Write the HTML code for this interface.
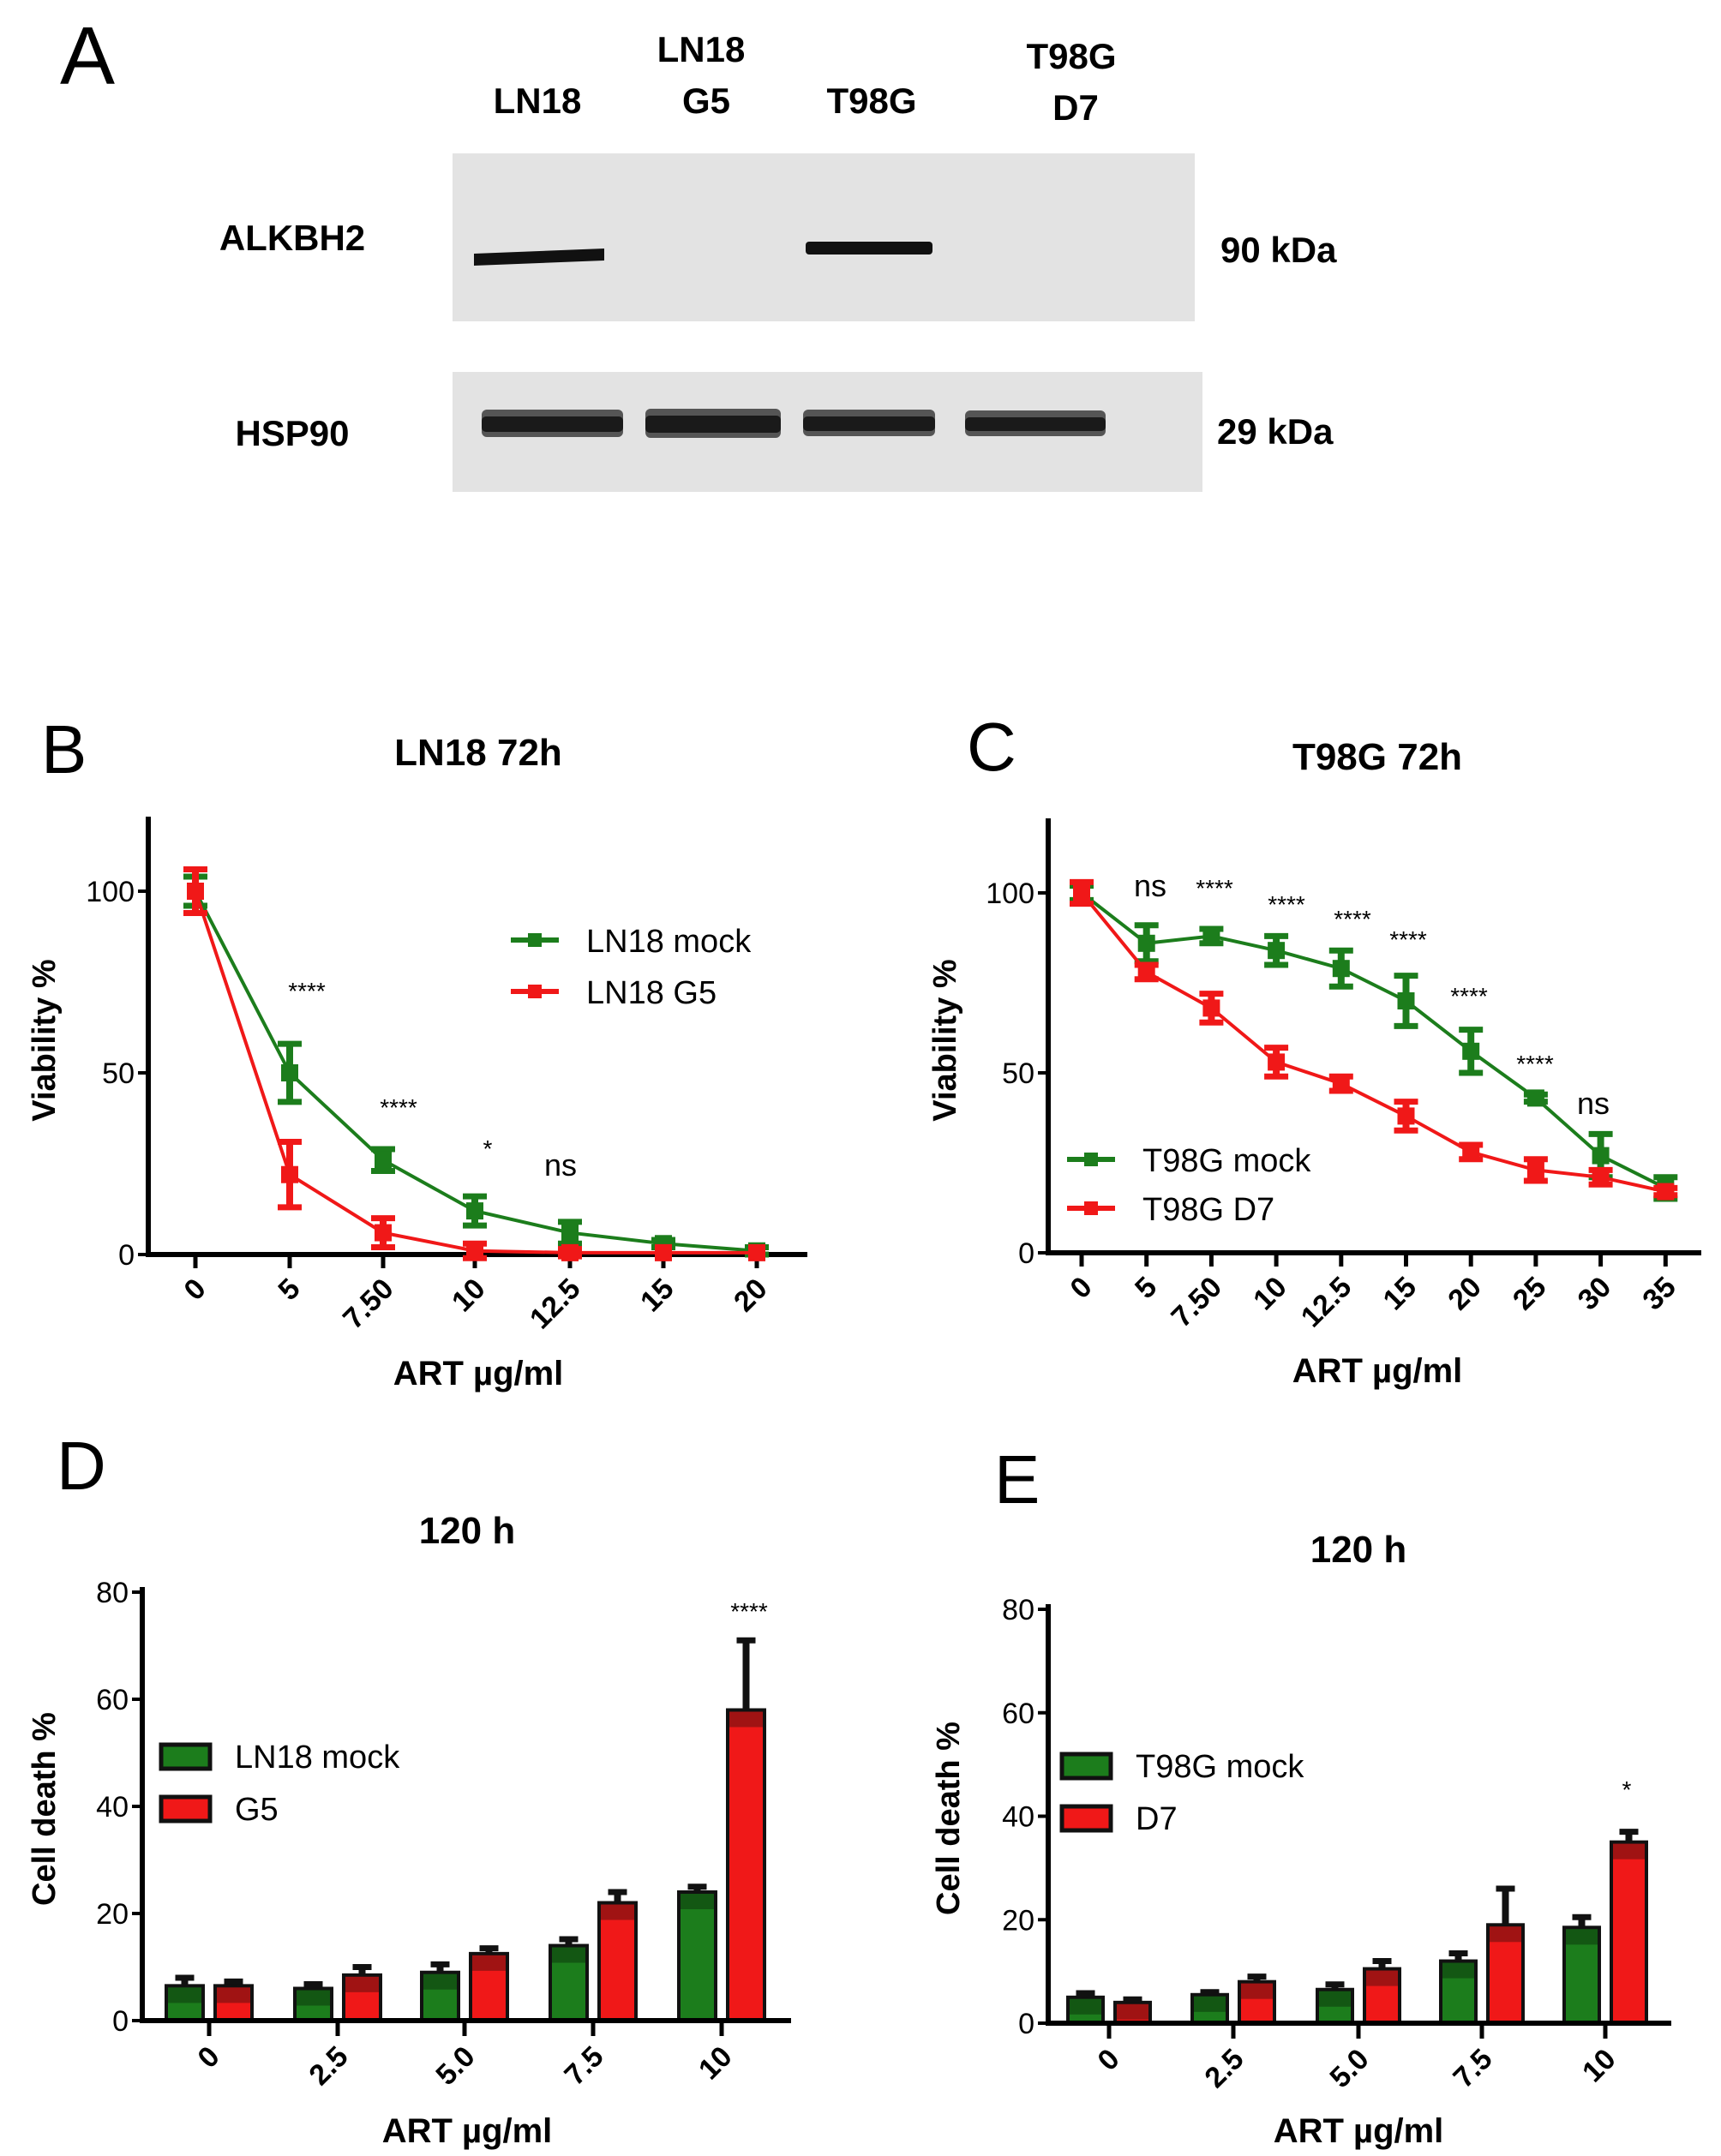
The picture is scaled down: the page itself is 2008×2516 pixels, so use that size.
<!DOCTYPE html>
<html><head><meta charset="utf-8"><style>
html,body{margin:0;padding:0;background:#fff}
svg{display:block}
text{font-family:"Liberation Sans",Arial,sans-serif}
</style></head><body>
<svg id="s" width="2008" height="2516" viewBox="0 0 2008 2516" xmlns="http://www.w3.org/2000/svg">
<rect width="2008" height="2516" fill="#fff"/>
<text x="70" y="98" font-size="96" fill="#000">A</text>
<g font-size="42" font-weight="bold" text-anchor="middle">
<text x="627" y="132">LN18</text>
<text x="818" y="72">LN18</text><text x="824" y="132">G5</text>
<text x="1017" y="132">T98G</text>
<text x="1250" y="80">T98G</text><text x="1255" y="140">D7</text>
<text x="341" y="292">ALKBH2</text>
<text x="341" y="520">HSP90</text>
</g>
<g font-size="42" font-weight="bold"><text x="1424" y="306">90 kDa</text><text x="1420" y="518">29 kDa</text></g>
<rect x="528" y="179" width="866" height="196" fill="#e3e3e3"/>
<rect x="528" y="434" width="875" height="140" fill="#e3e3e3"/>
<path d="M553 296 L705 290 L705 304 L553 310Z" fill="#111"/>
<rect x="940" y="282" width="148" height="15" rx="4" fill="#111"/>
<g fill="#555"><rect x="562" y="478" width="165" height="32" rx="6"/><rect x="753" y="477" width="158" height="34" rx="6"/><rect x="937" y="478" width="154" height="31" rx="6"/><rect x="1126" y="479" width="164" height="30" rx="6"/></g>
<g fill="#1a1a1a">
<rect x="562" y="486" width="165" height="18" rx="5"/>
<rect x="753" y="485" width="158" height="20" rx="5"/>
<rect x="937" y="486" width="154" height="17" rx="5"/>
<rect x="1126" y="487" width="164" height="16" rx="5"/>
</g>
<g id="dyn"></g>
</svg>
<script>
const G="#1c7d1c",R="#f01818";
let o="";
function T(x,y,s,sz,extra){o+=`<text x="${x}" y="${y}" font-size="${sz}" ${extra||""}>${s}</text>`;}
function L(x1,y1,x2,y2,c,w){o+=`<line x1="${x1}" y1="${y1}" x2="${x2}" y2="${y2}" stroke="${c}" stroke-width="${w}"/>`;}
function R_(x,y,w,h,f,extra){o+=`<rect x="${x}" y="${y}" width="${w}" height="${h}" fill="${f}" ${extra||""}/>`;}
function lineChart(o2){
  const {ax,top,zero,y100,end,xs,labels,data,letter,title,legend,yl,xl,ann}=o2;
  const Y=v=>zero-(zero-y100)*v/100;
  L(ax,top,ax,zero+3,"#000",6);L(ax-3,zero,end,zero,"#000",6);
  [0,50,100].forEach(v=>{L(ax-12,Y(v),ax,Y(v),"#000",4);T(ax-16,Y(v)+12,v,34,'text-anchor="end"');});
  xs.forEach((x,i)=>{L(x,zero,x,zero+16,"#000",5);T(x+14,zero+42,labels[i],34,`font-weight="bold" text-anchor="end" transform="rotate(-45 ${x+14} ${zero+42})"`);});
  data.forEach(([c,vals,errs])=>{
    o+=`<polyline fill="none" stroke="${c}" stroke-width="4" points="${vals.map((v,i)=>xs[i]+","+Y(v)).join(" ")}"/>`;
    vals.forEach((v,i)=>{const x=xs[i],e=errs[i];
      if(e>0){L(x,Y(v+e),x,Y(v-e),c,8);L(x-14,Y(v+e),x+14,Y(v+e),c,7);L(x-14,Y(v-e),x+14,Y(v-e),c,7);}
      R_(x-10,Y(v)-10,20,20,c);});
  });
  ann.forEach(a=>T(a[0],a[1],a[2],a[2]=="ns"?36:28,'text-anchor="middle"'));
  T(letter[0],letter[1],letter[2],80);
  T(title[0],title[1],title[2],44,'font-weight="bold" text-anchor="middle"');
  legend.forEach(([x,y,c,s])=>{L(x,y,x+56,y,c,6);R_(x+20,y-8,16,16,c);T(x+88,y+14,s,38);});
  T(yl[0],yl[1],"Viability %",38,`font-weight="bold" text-anchor="middle" transform="rotate(-90 ${yl[0]} ${yl[1]})"`);
  T(xl[0],xl[1],"ART µg/ml",40,'font-weight="bold" text-anchor="middle"');
}
lineChart({ax:173,top:953,zero:1464,y100:1040,end:942,
 xs:[228,338,447,554,665,774,883],labels:["0","5","7.50","10","12.5","15","20"],
 data:[[G,[100,50,26,12,6,3,1],[4,8,3,4,3,1,1]],[R,[100,22,6,1,0.5,0.5,0.5],[6,9,4,2,1,0,0]]],
 letter:[48,902,"B"],title:[558,893,"LN18 72h"],
 legend:[[596,1097,G,"LN18 mock"],[596,1157,R,"LN18 G5"]],
 yl:[64,1214],xl:[558,1616],
 ann:[[358,1166,"****"],[465,1302,"****"],[569,1350,"*"],[654,1372,"ns"]]});
const cx=[];for(let i=0;i<10;i++)cx.push(1262+i*75.7);
lineChart({ax:1223,top:955,zero:1462,y100:1042,end:1985,
 xs:cx,labels:["0","5","7.50","10","12.5","15","20","25","30","35"],
 data:[[G,[100,86,88,84,79,70,56,43,27,18],[2,5,2,4,5,7,6,1,6,3]],[R,[100,78,68,53,47,38,28,23,21,17],[3,2,4,4,2,4,2,3,2,1]]],
 letter:[1128,899,"C"],title:[1607,898,"T98G 72h"],
 legend:[[1245,1353,G,"T98G mock"],[1245,1410,R,"T98G D7"]],
 yl:[1115,1214],xl:[1607,1613],
 ann:[[1342,1046,"ns"],[1417,1046,"****"],[1501,1065,"****"],[1578,1082,"****"],[1643,1106,"****"],[1714,1172,"****"],[1791,1251,"****"],[1859,1300,"ns"]]});
function barChart(p){
  const {ax,top,zero,y80,end,xs,gv,rv,ge,re,bw,letter,title,legend,yl,xl,ann}=p;
  const Y=v=>zero-(zero-y80)*v/80;
  xs.forEach((x,i)=>{
    [[x-bw-7,gv[i],ge[i],G,"#0d3d0d"],[x+7,rv[i],re[i],R,"#6a1010"]].forEach(([bx,v,e,c,dk])=>{
      R_(bx,Y(v),bw,zero-Y(v),c,'stroke="#111" stroke-width="4"');
      const h=Math.min(zero-Y(v)-4,18);
      R_(bx+2,Y(v)+2,bw-4,h,dk,'opacity="0.6"');
      L(bx+bw/2,Y(v+e),bx+bw/2,Y(v),"#111",8);L(bx+bw/2-11,Y(v+e),bx+bw/2+11,Y(v+e),"#111",7);
    });
  });
  L(ax,top,ax,zero+3,"#000",6);L(ax-3,zero,end,zero,"#000",6);
  [0,20,40,60,80].forEach(v=>{L(ax-12,Y(v),ax,Y(v),"#000",4);T(ax-16,Y(v)+12,v,34,'text-anchor="end"');});
  const lab=["0","2.5","5.0","7.5","10"];
  xs.forEach((x,i)=>{L(x,zero,x,zero+18,"#000",5);T(x+14,zero+44,lab[i],34,`font-weight="bold" text-anchor="end" transform="rotate(-45 ${x+14} ${zero+44})"`);});
  ann.forEach(a=>T(a[0],a[1],a[2],28,'text-anchor="middle"'));
  T(letter[0],letter[1],letter[2],80);
  T(title[0],title[1],"120 h",44,'font-weight="bold" text-anchor="middle"');
  legend.forEach(([x,y,c,s])=>{R_(x,y,57,28,c,'stroke="#111" stroke-width="5"');T(x+86,y+27,s,38);});
  T(yl[0],yl[1],"Cell death %",38,`font-weight="bold" text-anchor="middle" transform="rotate(-90 ${yl[0]} ${yl[1]})"`);
  T(xl[0],xl[1],"ART µg/ml",40,'font-weight="bold" text-anchor="middle"');
}
barChart({ax:166,top:1852,zero:2358,y80:1858,end:923,xs:[244,394,542,692,842],
 gv:[6.5,6,9,14,24],rv:[6.5,8.5,12.5,22,58],ge:[1.5,0.8,1.5,1.2,1],re:[0.8,1.5,1,2,13],bw:43,
 letter:[66,1738,"D"],title:[545,1801],legend:[[188,2036,G,"LN18 mock"],[188,2097,R,"G5"]],
 yl:[64,2111],xl:[545,2500],ann:[[874,1890,"****"]]});
barChart({ax:1223,top:1872,zero:2361,y80:1878,end:1950,xs:[1294,1439,1585,1729,1873],
 gv:[5,5.5,6.5,12,18.5],rv:[4,8,10.5,19,35],ge:[0.8,0.5,1,1.5,2],re:[0.6,1,1.5,7,2],bw:41,
 letter:[1160,1754,"E"],title:[1585,1823],legend:[[1239,2047,G,"T98G mock"],[1239,2108,R,"D7"]],
 yl:[1119,2122],xl:[1585,2500],ann:[[1898,2098,"*"]]});
document.getElementById("dyn").innerHTML=o;
</script>
</body></html>
